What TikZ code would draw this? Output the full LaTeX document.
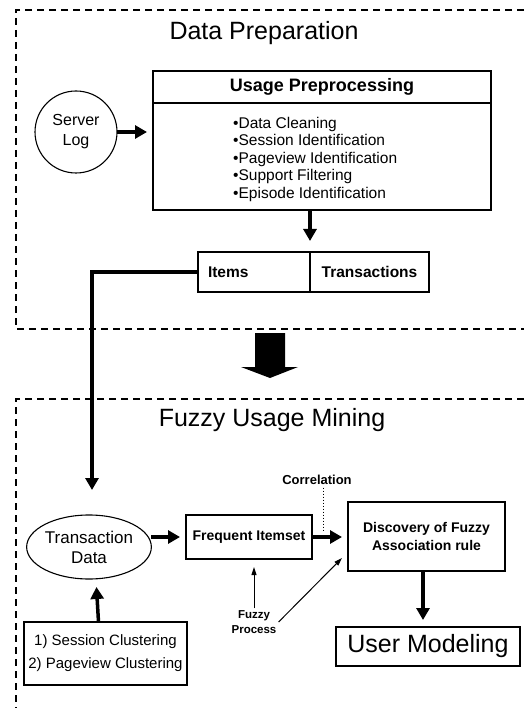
\documentclass[tikz,border=0pt]{standalone}
\usepackage{fontspec}
\setmainfont{Liberation Sans}
\usepackage{tikz}
\usetikzlibrary{positioning}
\usetikzlibrary{calc,arrows.meta}
\usetikzlibrary{shapes.geometric}

\tikzset{
	box/.style={draw, line width=1.1pt, inner sep=0pt, outer sep=0pt, align=center},
	frame/.style={line width=1.4pt, dash pattern=on 7pt off 5pt},
	bigarrow/.style={line width=3.5pt, -{Triangle[length=12pt,width=13pt]}},
	thinarrow/.style={line width=1pt, -{Triangle[length=8pt,width=5pt]}},
}
\newcommand{\fsz}[2]{\fontsize{#1}{#2}\selectfont}

\begin{document}
\begin{tikzpicture}[x=1pt, y=-1pt]
	
	% page of 524 x 708, y runs downwards
	\useasboundingbox (0,0) rectangle (524,708);
	
	% dashed frames, open to the right
	\draw[frame] (524,10) -- (16,10) -- (16,329) -- (524,329);
	\draw[frame] (524,399) -- (16,399) -- (16,712);
	
	\node[anchor=base, font=\fsz{25}{30}] (PrepTitle) at (264,39.5) {Data Preparation};
	\node[anchor=base, font=\fsz{25}{30}] (MineTitle) at (272,426) {Fuzzy Usage Mining};
	
	%%%%%%%%%%%%%%%%%%%%%%%%%%%%%%%%%%%%%%%%%%%%%%%%%%%%%%%%%%%%%%
	% Data Preparation
	
	\node[box, circle, minimum size=82pt, font=\fsz{16}{20}] (Log) at (76,132) {Server\\Log};
	
	\node[box, minimum width=338pt, minimum height=139pt] (Prep) at (322,140.5) {};
	\node[box, minimum width=338pt, minimum height=32pt, anchor=north, font=\fsz{18}{20}\bfseries]
		(PrepHead) at (Prep.north) {Usage Preprocessing};
	\node[anchor=north west, align=left, inner sep=0pt, font=\fsz{15.5}{17.5}] (PrepList) at (233,117) {%
		\textbullet Data Cleaning\\
		\textbullet Session Identification\\
		\textbullet Pageview Identification\\
		\textbullet Support Filtering\\
		\textbullet Episode Identification};
	
	\node[box, minimum width=112pt, minimum height=40pt, text width=92pt, align=left, inner xsep=10pt,
		font=\fsz{15.5}{18}\bfseries] (Items) at (254,272) {Items};
	\node[box, minimum width=119pt, minimum height=40pt, right=0pt of Items,
		font=\fsz{15.5}{18}\bfseries] (Trans) {Transactions};
	
	\draw[bigarrow, shorten >=6pt] (Log.east) -- (Log.east -| Prep.west);
	\draw[bigarrow, shorten >=11pt] (Prep.south -| Items.east) -- (Items.north east);
	
	% passage arrow between the two frames
	\fill (255,333) -- (285,333) -- (285,367) -- (298,367) -- (270,378) -- (241,367) -- (255,367) -- cycle;
	
	%%%%%%%%%%%%%%%%%%%%%%%%%%%%%%%%%%%%%%%%%%%%%%%%%%%%%%%%%%%%%%
	% Fuzzy Usage Mining
	
	\node[box, ellipse, minimum width=120pt, minimum height=64pt, font=\fsz{17}{20}] (TData) at (89,547)
		{Transaction\\Data};
	\node[box, minimum width=126pt, minimum height=44pt, font=\fsz{14}{17}\bfseries] (Freq) at (249,537)
		{Frequent Itemset};
	\node[box, minimum width=157pt, minimum height=69pt, font=\fsz{14}{18}\bfseries] (Disc) at (426.5,536.5)
		{Discovery of Fuzzy\\Association rule};
	\node[box, minimum width=184pt, minimum height=39pt, font=\fsz{25}{30}] (User) at (428,646.5)
		{User Modeling};
	\node[box, minimum width=163pt, minimum height=63pt, font=\fsz{15}{23}] (Clust) at (105.5,653.5)
		{1) Session Clustering\\2) Pageview Clustering};
	
	\node[anchor=base, font=\fsz{13}{15}\bfseries] (CorrLabel) at (317,484) {Correlation};
	\node[align=center, inner sep=2pt, font=\fsz{11.5}{15}\bfseries] (FuzzyLabel) at (254,622) {Fuzzy\\Process};
	
	\coordinate (Bend) at (92,273);
	\coordinate (CorrEnd) at (323,531);
	\coordinate (FuzzyEnd) at (342,558);
	
	\draw[bigarrow, shorten >=25pt] (Items.west) -| (Bend |- TData.north);
	\draw[bigarrow, shorten >=6pt] (TData.east |- Freq.west) -- (Freq.west);
	\draw[bigarrow, shorten >=6pt] (Freq.east) -- (Freq.east -| Disc.west);
	\draw[bigarrow, shorten >=7pt] (Disc.south -| 423,0) -- (User.north -| 423,0);
	\draw[bigarrow, shorten >=8pt] ($(Clust.north)+(-7,0)$) -- ($(TData.south)+(7,0)$);
	
	\draw[line width=1pt, dotted] (CorrLabel.south -| CorrEnd) -- (CorrEnd);
	\draw[thinarrow, shorten >=8pt] (FuzzyLabel.north) -- (FuzzyLabel.north |- Freq.south);
	\draw[thinarrow] ($(FuzzyLabel.east)+(0,0)$) -- (FuzzyEnd);
	
\end{tikzpicture}
\end{document}
